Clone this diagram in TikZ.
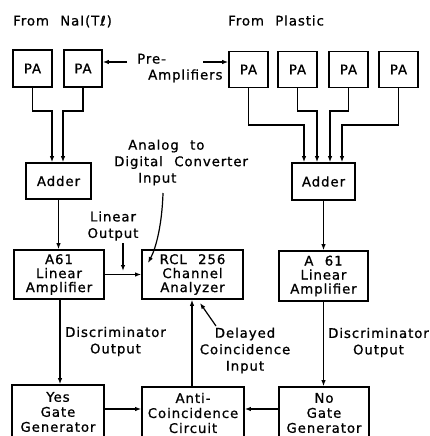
\documentclass[tikz,border=0pt]{standalone}
\usepackage{fontspec}
\setmainfont{DejaVu Sans}[LetterSpace=7,WordSpace=2.2,FakeBold=0.9]
\usetikzlibrary{arrows.meta}
\begin{document}
\begin{tikzpicture}[x=1pt,y=-1pt,
  box/.style={draw,line width=1.7pt,inner sep=0pt,align=center,font=\fontsize{13.3}{14}\selectfont},
  bbox/.style={box,font=\fontsize{13.3}{15}\selectfont},
  lbl/.style={inner sep=0pt,align=center,font=\fontsize{13.3}{16.5}\selectfont},
  conn/.style={line width=1.2pt},
  arr/.style={conn,-{Latex[length=6pt,width=4.5pt]}}]
\clip (0,0) rectangle (430,436);
% titles
\node[lbl,anchor=base west] (t1) at (13,25.5) {From NaI(Tℓ)};
\node[lbl,anchor=base west] (t2) at (228,25.5) {From Plastic};
% preamplifiers
\node[box,minimum width=39pt,minimum height=37pt] (pa1) at (32.5,68.5) {PA};
\node[box,minimum width=38pt,minimum height=37pt] (pa2) at (83,68.5) {PA};
\node[box,minimum width=39pt,minimum height=36pt] (pa3) at (248.5,69.5) {PA};
\node[box,minimum width=39pt,minimum height=36pt] (pa4) at (297.5,69.5) {PA};
\node[box,minimum width=39pt,minimum height=36pt] (pa5) at (348.5,69.5) {PA};
\node[box,minimum width=39pt,minimum height=36pt] (pa6) at (398.5,69.5) {PA};
\node[lbl,anchor=base west] (pre) at (137,63.5) {Pre-};
\node[lbl,anchor=base west] (amps) at (148,79.5) {Amplifiers};
\coordinate (prl) at (127,62);
\coordinate (prr) at (203,62);
\draw[arr] (prl) -- (prl -| pa2.east);
\draw[arr] (prr) -- (prr -| pa3.west);
% adders
\node[box,minimum width=65pt,minimum height=36pt] (add1) at (58.5,181) {Adder};
\node[box,minimum width=63pt,minimum height=37pt] (add2) at (323.5,181.5) {Adder};
\coordinate (j1) at (52,111);
\coordinate (j2) at (63,111);
\coordinate (j3) at (304,125);
\coordinate (j4) at (317,111);
\coordinate (j5) at (330,111);
\coordinate (j6) at (342,125);
\draw[arr] (pa1.south) |- (j1) -- (j1 |- add1.north);
\draw[arr] (pa2.south) |- (j2) -- (j2 |- add1.north);
\draw[arr] (pa3.south) |- (j3) -- (j3 |- add2.north);
\draw[arr] (pa4.south) |- (j4) -- (j4 |- add2.north);
\draw[arr] (pa5.south) |- (j5) -- (j5 |- add2.north);
\draw[arr] (pa6.south) |- (j6) -- (j6 |- add2.north);
% amplifiers and analyzer
\node[box,minimum width=90pt,minimum height=49pt] (amp1) at (59,274.5) {A61\\Linear\\Amplifier};
\node[box,minimum width=101pt,minimum height=49pt] (rcl) at (192.5,274.5) {RCL 256\\Channel\\Analyzer};
\node[box,minimum width=89pt,minimum height=50pt] (amp2) at (323.5,276) {A 61\\Linear\\Amplifier};
\draw[arr] (add1.south) -- (add1.south |- amp1.north);
\draw[arr] (add2.south) -- (add2.south |- amp2.north);
\draw[arr] (amp1.east) -- (rcl.west);
% labels
\node[lbl] (lin) at (113,226) {Linear\\Output};
\coordinate (lo1) at (123,243);
\coordinate (lo2) at (123,271);
\draw[arr] (lo1) -- (lo2);
\node[lbl,align=left,anchor=west] (adc) at (114,162.5) {\hspace*{14pt}Analog to\\Digital Converter\\\hspace*{24pt}Input};
\coordinate (adc1) at (163,193);
\coordinate (adc2) at (148,263);
\draw[arr] (adc1) .. controls (162,225) and (156,248) .. (adc2);
% bottom row
\node[bbox,minimum width=92pt,minimum height=54pt] (yes) at (58,412) {Yes\\Gate\\Generator};
\node[bbox,minimum width=102pt,minimum height=52pt] (anti) at (193,413) {Anti-\\Coincidence\\Circuit};
\node[bbox,minimum width=90pt,minimum height=52pt] (no) at (324,413) {No\\Gate\\Generator};
\coordinate (d1) at (60,299);
\draw[arr] (amp1.south -| d1) -- (yes.north -| d1);
\draw[arr] (amp2.south) -- (amp2.south |- no.north);
\draw[arr] (anti.north -| 192,0) -- (rcl.south -| 192,0);
\coordinate (hb) at (0,409);
\draw[arr] (yes.east |- hb) -- (anti.west |- hb);
\draw[arr] (no.west |- hb) -- (anti.east |- hb);
\node[lbl] (dis1) at (115.5,341.5) {Discriminator\\Output};
\node[lbl] (dis2) at (378.5,342.5) {Discriminator\\Output};
\node[lbl] (del) at (245,350.5) {Delayed\\Coincidence\\Input};
\coordinate (dl1) at (216,326);
\coordinate (dl2) at (200,303);
\draw[arr] (dl1) -- (dl2);
\end{tikzpicture}
\end{document}
